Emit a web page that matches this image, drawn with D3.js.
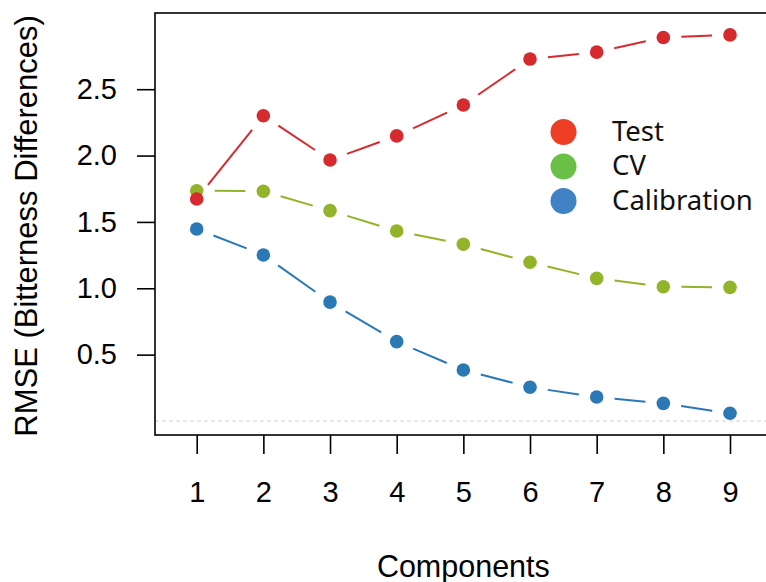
<!DOCTYPE html>
<html><head><meta charset="utf-8">
<script src="https://cdn.jsdelivr.net/npm/d3@7"></script>
<style>body{margin:0;background:#fff}svg{display:block}</style>
</head><body><svg id="c" width="766" height="582"></svg>
<script>
const components = [1,2,3,4,5,6,7,8,9];
const testRMSE = [1.673, 2.30, 1.967, 2.148, 2.381, 2.727, 2.779, 2.890, 2.909];
const cvRMSE = [1.735, 1.731, 1.585, 1.432, 1.332, 1.196, 1.075, 1.012, 1.007];
const calRMSE = [1.447, 1.251, 0.896, 0.598, 0.384, 0.254, 0.181, 0.133, 0.058];
const yTicks = [0.5, 1.0, 1.5, 2.0, 2.5];
const seriesNames = ["Test", "CV", "Calibration"];
const lineColors = ["#d62a2f", "#92b42a", "#2a79b4"];
const legendColors = ["#ef3e26", "#6abf47", "#4181c5"];

(function () {
const svg = d3.select("#c");
const x = d3.scaleLinear().domain([1, 9]).range([196.7, 730]);
const y = d3.scaleLinear().domain([0, 2.5]).range([421, 89.2]);
const boxL = 155, boxT = 13, boxB = 435, boxR = 800;
const FONT = "Liberation Sans, Arial, Helvetica, sans-serif";

// zero reference line
svg.append("line").attr("x1", boxL).attr("x2", 766).attr("y1", y(0)).attr("y2", y(0))
  .attr("stroke", "#d0d0d0").attr("stroke-width", 1).attr("stroke-dasharray", "4,3");

// box
svg.append("rect").attr("x", boxL).attr("y", boxT).attr("width", boxR - boxL).attr("height", boxB - boxT)
  .attr("fill", "none").attr("stroke", "#000").attr("stroke-width", 1.6);

// y axis
const yAxis = d3.axisLeft(y).tickValues(yTicks).tickFormat(d3.format(".1f")).tickSize(18).tickPadding(20);
const gy = svg.append("g").attr("transform", `translate(${boxL},0)`).call(yAxis);
gy.select(".domain").remove();
gy.selectAll("line").attr("stroke", "#000").attr("stroke-width", 1.6);
gy.selectAll("text").attr("font-family", FONT).attr("font-size", 29).attr("fill", "#000");

// x axis
const xAxis = d3.axisBottom(x).tickValues(components).tickFormat(d3.format("d")).tickSize(19).tickPadding(27);
const gx = svg.append("g").attr("transform", `translate(0,${boxB})`).call(xAxis);
gx.select(".domain").remove();
gx.selectAll("line").attr("stroke", "#000").attr("stroke-width", 1.6);
gx.selectAll("text").attr("font-family", FONT).attr("font-size", 29).attr("fill", "#000");

// axis titles
svg.append("text").attr("x", x(5)).attr("y", 577).attr("text-anchor", "middle")
  .attr("font-family", FONT).attr("font-size", 30.5).text("Components");
svg.append("text").attr("transform", `translate(37,${(boxT + boxB) / 2 + 2}) rotate(-90)`).attr("text-anchor", "middle")
  .attr("font-family", FONT).attr("font-size", 31).text("RMSE (Bitterness Differences)");

// series: type "b" lines with gaps around points
const allSeries = [testRMSE, cvRMSE, calRMSE];
const gap = 18;
allSeries.forEach((vals, si) => {
  const pts = components.map((c, i) => [x(c), y(vals[i])]);
  const g = svg.append("g");
  for (let i = 0; i < pts.length - 1; i++) {
    const [x1, y1] = pts[i], [x2, y2] = pts[i + 1];
    const dx = x2 - x1, dy = y2 - y1, L = Math.hypot(dx, dy);
    if (L <= 2 * gap) continue;
    const ux = dx / L, uy = dy / L;
    g.append("line").attr("x1", x1 + ux * gap).attr("y1", y1 + uy * gap)
      .attr("x2", x2 - ux * gap).attr("y2", y2 - uy * gap)
      .attr("stroke", lineColors[si]).attr("stroke-width", 2);
  }
});
[1, 2, 0].forEach((si) => {
  const vals = allSeries[si];
  svg.append("g").selectAll("circle").data(vals).join("circle")
    .attr("cx", (d, i) => x(components[i])).attr("cy", d => y(d)).attr("r", 6.8)
    .attr("fill", lineColors[si]);
});

// legend
const lg = svg.append("g");
seriesNames.forEach((n, i) => {
  const cy = 132 + i * 34.5;
  lg.append("circle").attr("cx", 563.5).attr("cy", cy).attr("r", 13).attr("fill", legendColors[i]);
  lg.append("text").attr("x", 612).attr("y", cy + 8.5).attr("font-family", "Noto Sans, Open Sans, sans-serif")
    .attr("font-size", 27.5).attr("fill", "#111").text(n);
});
})();
</script></body></html>
